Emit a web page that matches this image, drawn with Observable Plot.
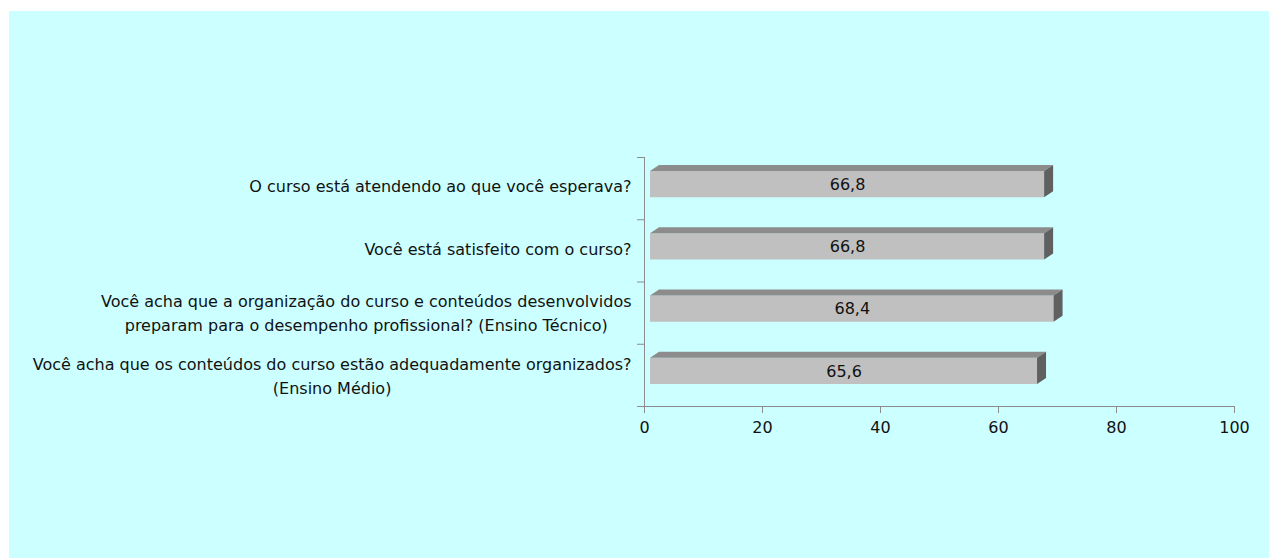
<!DOCTYPE html>
<html>
<head>
<meta charset="utf-8">
<script src="https://cdn.jsdelivr.net/npm/d3@7"></script>
<script src="https://cdn.jsdelivr.net/npm/@observablehq/plot@0.6"></script>
<style>
  html, body { margin: 0; padding: 0; background: #ffffff; }
  #chart { position: absolute; left: 9px; top: 11px; width: 1260px; height: 547px; background: #ccffff; }
  #chart svg text { font-family: "DejaVu Sans", Verdana, sans-serif; font-size: 16px; fill: #111111; }
</style>
</head>
<body>
<div id="chart"></div>
<script>
const categories = [
  "O curso está atendendo ao que você esperava?",
  "Você está satisfeito com o curso?",
  "Você acha que a organização do curso e conteúdos desenvolvidos\npreparam para o desempenho profissional? (Ensino Técnico)",
  "Você acha que os conteúdos do curso estão adequadamente organizados?\n(Ensino Médio)"
];
const values = [66.8, 66.8, 68.4, 65.6];
const xTicks = [0, 20, 40, 60, 80, 100];
const yBoundaries = [0, 1, 2, 3, 4];

const data = categories.map((c, i) => ({category: c, index: i, value: values[i]}));
const fmt = v => v.toFixed(1).replace(".", ",");

const W = 1260, H = 547;
const FONT = "16px 'DejaVu Sans'";
const canvas = document.createElement("canvas");
const ctx = canvas.getContext("2d");
ctx.font = FONT;
const measure = s => Math.max(...s.split("\n").map(l => ctx.measureText(l).width));

const FRONT = "#c0c0c0", TOP = "#8c8c8c", SIDE = "#606060", AXIS = "#8c8c8c";
const SHIFT = 6, DX = 9, DY = 6, INSET_T = 14, INSET_B = 22;

// 3D top and side faces drawn via scales
const faces = (index, scales) => {
  const g = d3.create("svg:g");
  for (const d of data) {
    const x0 = scales.x(0) + SHIFT, x1 = scales.x(d.value) + SHIFT;
    const yt = scales.y(d.index) + INSET_T, yb = scales.y(d.index + 1) - INSET_B;
    g.append("polygon")
      .attr("points", [[x0, yt], [x0 + DX, yt - DY], [x1 + DX, yt - DY], [x1, yt]].join(" "))
      .attr("fill", TOP);
    g.append("polygon")
      .attr("points", [[x1, yt], [x1 + DX, yt - DY], [x1 + DX, yb - DY], [x1, yb]].join(" "))
      .attr("fill", SIDE);
  }
  return g.node();
};

const labelMarks = data.map(d => {
  const w = measure(d.category);
  const multi = d.category.includes("\n");
  return Plot.text([d], {
    frameAnchor: "left",
    y: r => r.index + 0.5,
    text: "category",
    textAnchor: "middle",
    lineAnchor: "middle",
    lineHeight: 1.5,
    dx: -13 - w / 2,
    dy: multi ? -1.5 : -4,
    fill: "#111111"
  });
});

const chart = Plot.plot({
  width: W,
  height: H,
  marginLeft: 635,
  marginRight: 35,
  marginTop: 146,
  marginBottom: 152,
  style: {background: "#ccffff", color: AXIS, fontFamily: "DejaVu Sans", fontSize: "16px", overflow: "visible"},
  x: {domain: [0, 100], ticks: xTicks, tickSize: 7, tickPadding: 8, label: null},
  y: {domain: [0, 4], reverse: true, ticks: yBoundaries, tickFormat: () => "", tickSize: 7, label: null},
  marks: [
    Plot.ruleX([0], {stroke: AXIS}),
    Plot.ruleY([4], {stroke: AXIS}),
    Plot.rect(data, {
      x1: 0, x2: "value",
      y1: "index", y2: d => d.index + 1,
      insetTop: INSET_T, insetBottom: INSET_B,
      dx: SHIFT,
      fill: FRONT
    }),
    faces,
    Plot.text(data, {
      x: d => d.value / 2,
      y: d => d.index + 0.5,
      text: d => fmt(d.value),
      dx: SHIFT,
      dy: -4,
      fill: "#111111"
    }),
    ...labelMarks
  ]
});
document.getElementById("chart").appendChild(chart);
</script>
</body>
</html>
